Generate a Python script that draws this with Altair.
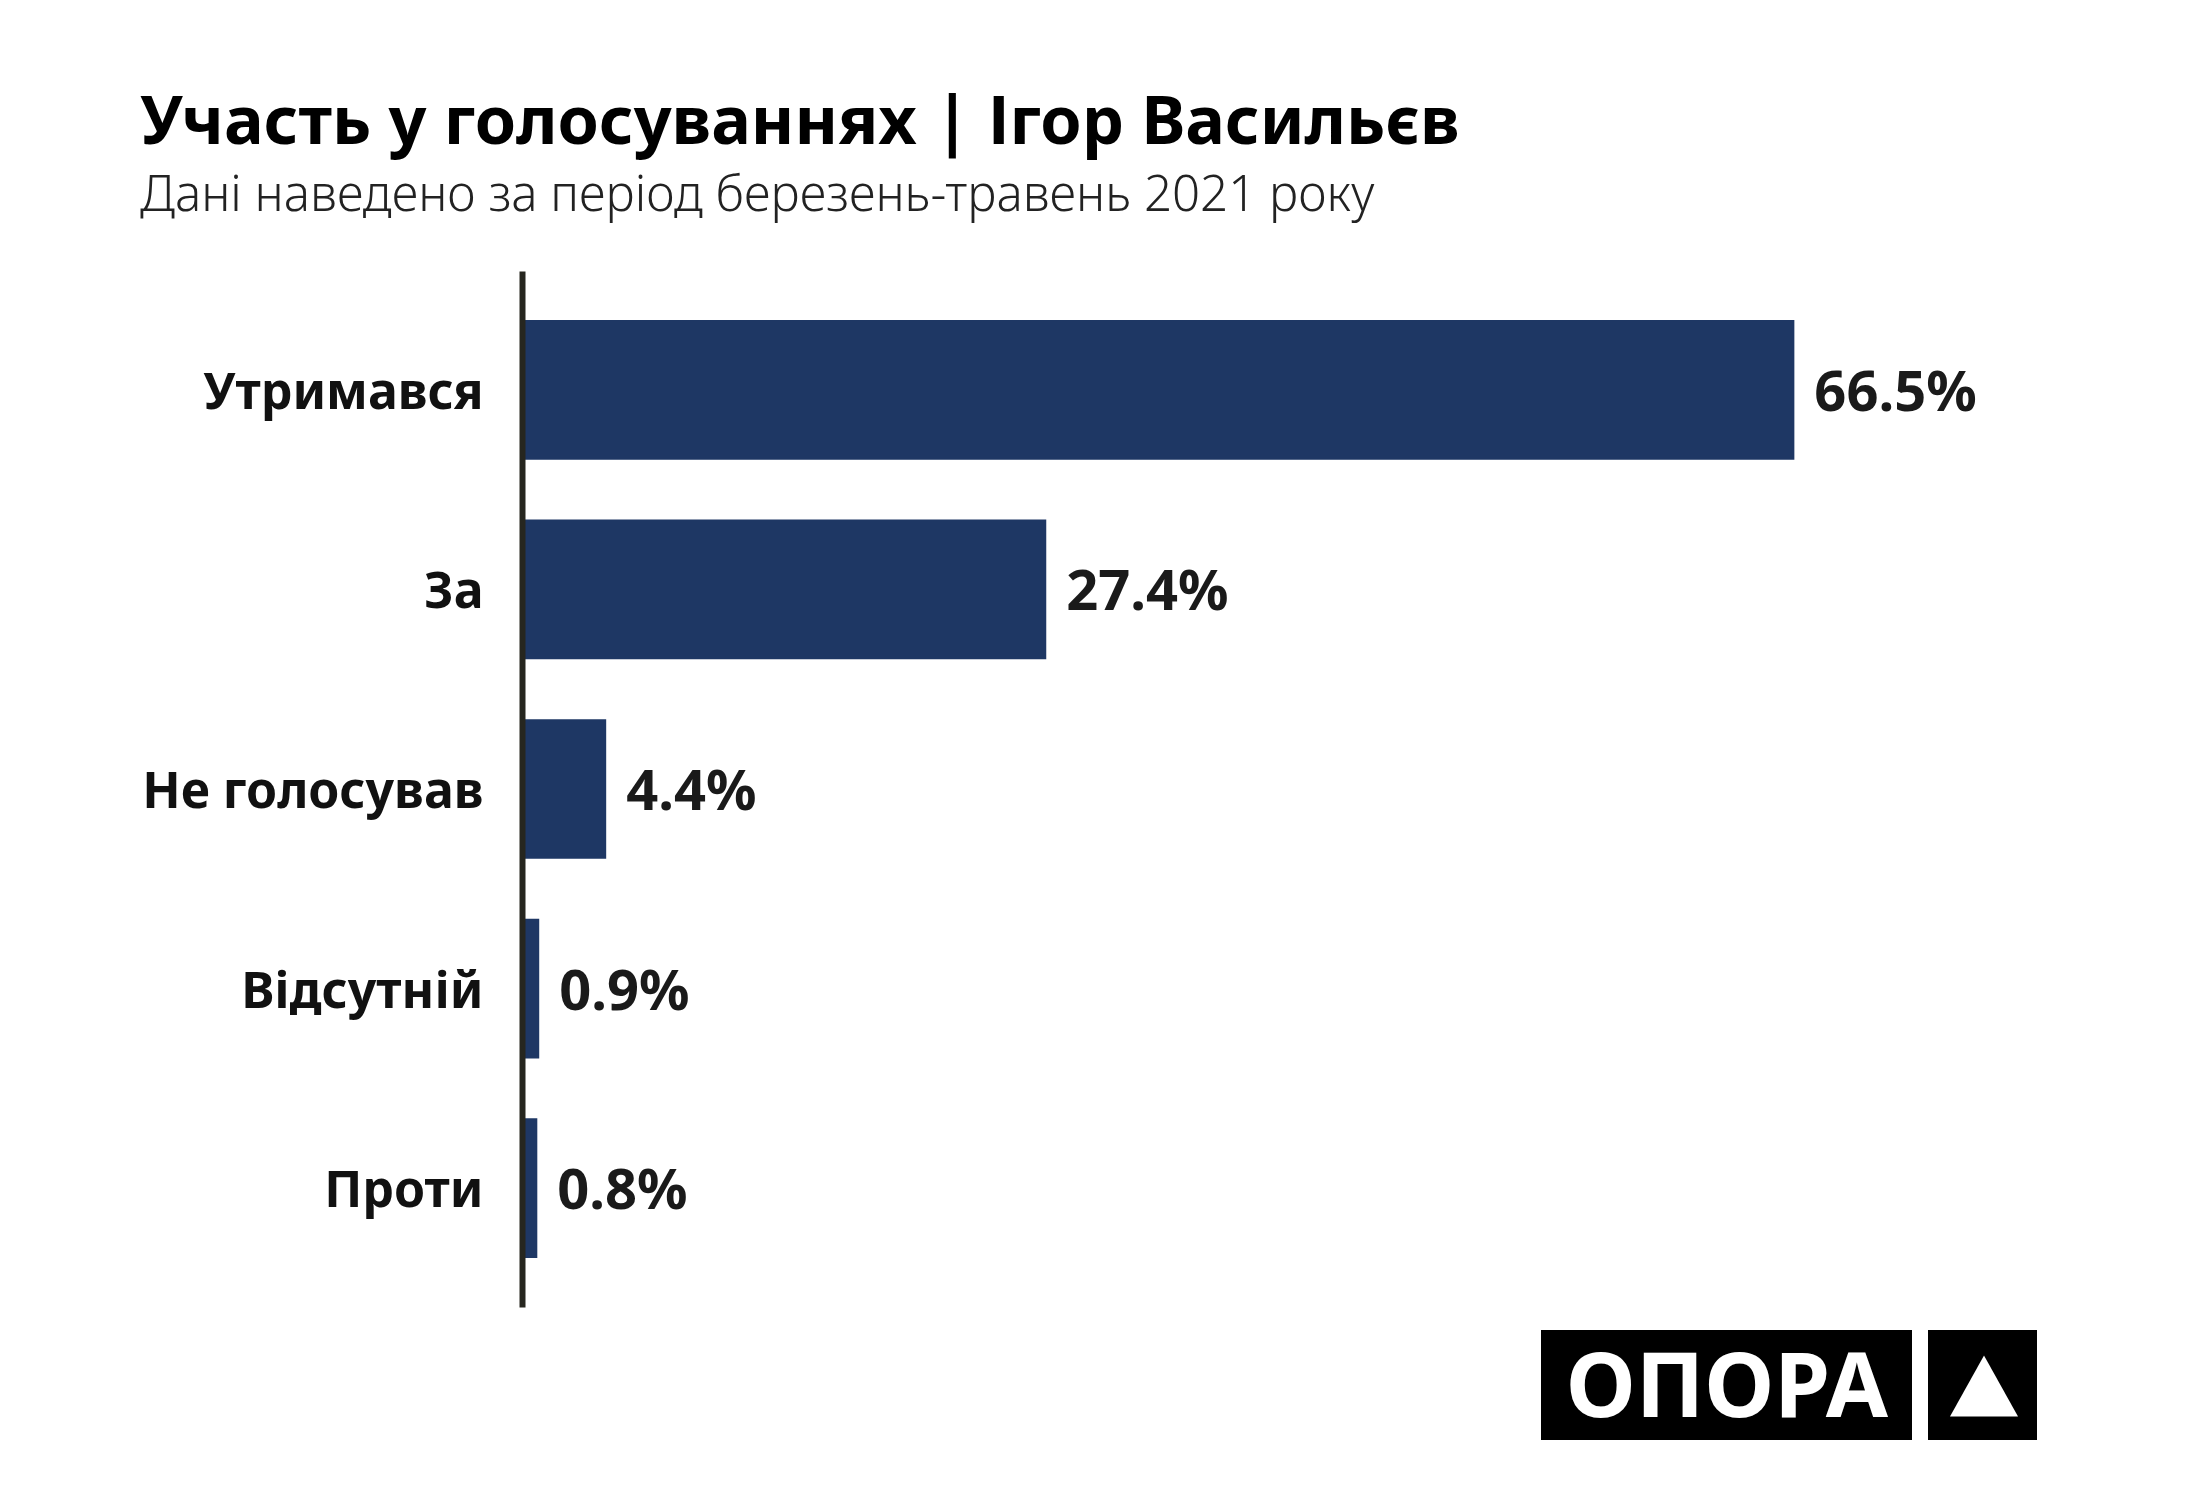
import altair as alt
import pandas as pd

# ---- data ----
categories = ["Утримався", "За", "Не голосував", "Відсутній", "Проти"]
values = [66.5, 27.4, 4.4, 0.9, 0.8]
labels = ["66.5%", "27.4%", "4.4%", "0.9%", "0.8%"]

title_text = "Участь у голосуваннях | Ігор Васильєв"
subtitle_text = "Дані наведено за період березень-травень 2021 року"
logo_text = "ОПОРА"

df = pd.DataFrame({"category": categories, "value": values, "label": labels})
one = pd.DataFrame({"k": [0]})

FONT = "Noto Sans"
X_MAX = 75
W = 1435
H = 1036

y = alt.Y(
    "category:N",
    sort=categories,
    title=None,
    scale=alt.Scale(paddingInner=0.3, paddingOuter=0.245),
    axis=alt.Axis(
        domain=True,
        domainColor="#26261f",
        domainWidth=6,
        ticks=False,
        grid=False,
        labelFont=FONT,
        labelFontSize=50,
        labelFontWeight="bold",
        labelColor="#111111",
        labelPadding=39,
        labelLimit=0,
        labelOffset=4,
        zindex=1,
    ),
)
x = alt.X("value:Q", scale=alt.Scale(domain=[0, X_MAX]), axis=None)

bars = alt.Chart(df).mark_bar(color="#1e3764").encode(x=x, y=y)

value_text = alt.Chart(df).mark_text(
    align="left", baseline="middle", dx=20, dy=4, font=FONT, fontSize=56,
    fontWeight="bold", color="#1a1a1a"
).encode(x=x, y=y, text="label:N")

logo_box1 = alt.Chart(one).mark_rect(color="black").encode(
    x=alt.value(1019), x2=alt.value(1390), y=alt.value(1059), y2=alt.value(1169)
)
logo_box2 = alt.Chart(one).mark_rect(color="black").encode(
    x=alt.value(1406), x2=alt.value(1515), y=alt.value(1059), y2=alt.value(1169)
)
logo_word = alt.Chart(one).mark_text(
    text=logo_text, align="center", baseline="alphabetic", font=FONT,
    fontSize=90, fontWeight="bold", color="white"
).encode(x=alt.value(1205), y=alt.value(1146))
logo_tri = alt.Chart(one).mark_point(
    shape="M-1,0.9L0,-0.9L1,0.9Z", filled=True, color="white", size=4624, opacity=1
).encode(x=alt.value(1462), y=alt.value(1115))

chart = alt.layer(bars, value_text, logo_box1, logo_box2, logo_word, logo_tri).properties(
    width=W,
    height=H,
    autosize=alt.AutoSizeParams(type="none"),
    padding={"left": 514, "top": 263, "right": 235, "bottom": 185},
    background="white",
    title=alt.TitleParams(
        text=title_text,
        subtitle=subtitle_text,
        anchor="start",
        frame="group",
        dx=-382,
        offset=50,
        font=FONT,
        fontSize=66.5,
        fontWeight="bold",
        color="#000000",
        subtitleFont=FONT,
        subtitleFontSize=49.2,
        subtitleFontWeight=300,
        subtitleColor="#222222",
        subtitlePadding=14,
    ),
).configure_view(stroke=None)

chart.save("out.html", embed_options={"renderer": "svg", "actions": False})
